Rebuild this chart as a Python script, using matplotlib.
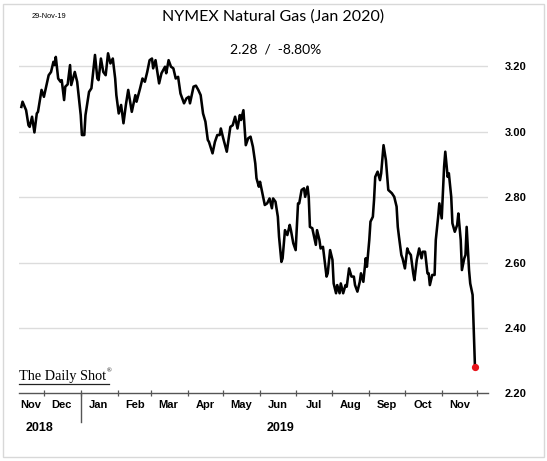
import pandas as pd
import numpy as np
import matplotlib
matplotlib.use("Agg")
import matplotlib.pyplot as plt
import matplotlib.dates as mdates
from matplotlib.lines import Line2D
from matplotlib.patches import Rectangle

# NYMEX natural gas, Jan 2020 contract
dates = [
    "2018-11-12", "2018-11-13", "2018-11-16", "2018-11-18", "2018-11-19", "2018-11-21",
    "2018-11-23", "2018-11-25", "2018-11-26", "2018-11-29", "2018-12-01", "2018-12-05",
    "2018-12-07", "2018-12-09", "2018-12-10", "2018-12-11", "2018-12-13", "2018-12-15",
    "2018-12-16", "2018-12-18", "2018-12-19", "2018-12-21", "2018-12-23", "2018-12-24",
    "2018-12-27", "2018-12-29", "2019-01-01", "2019-01-02", "2019-01-04", "2019-01-05",
    "2019-01-08", "2019-01-10", "2019-01-13", "2019-01-15", "2019-01-16", "2019-01-18",
    "2019-01-20", "2019-01-22", "2019-01-24", "2019-01-26", "2019-01-28", "2019-01-30",
    "2019-01-31", "2019-02-02", "2019-02-04", "2019-02-06", "2019-02-08", "2019-02-10",
    "2019-02-13", "2019-02-16", "2019-02-17", "2019-02-20", "2019-02-22", "2019-02-24",
    "2019-02-26", "2019-02-28", "2019-03-02", "2019-03-03", "2019-03-05", "2019-03-08",
    "2019-03-10", "2019-03-13", "2019-03-14", "2019-03-16", "2019-03-18", "2019-03-20",
    "2019-03-22", "2019-03-24", "2019-03-26", "2019-03-29", "2019-03-31", "2019-04-02",
    "2019-04-03", "2019-04-06", "2019-04-08", "2019-04-10", "2019-04-12", "2019-04-14",
    "2019-04-16", "2019-04-18", "2019-04-19", "2019-04-22", "2019-04-24", "2019-04-26",
    "2019-04-28", "2019-04-29", "2019-05-01", "2019-05-04", "2019-05-07", "2019-05-09",
    "2019-05-11", "2019-05-13", "2019-05-15", "2019-05-16", "2019-05-18", "2019-05-20",
    "2019-05-22", "2019-05-24", "2019-05-26", "2019-05-28", "2019-05-29", "2019-05-31",
    "2019-06-01", "2019-06-03", "2019-06-05", "2019-06-07", "2019-06-09", "2019-06-11",
    "2019-06-12", "2019-06-14", "2019-06-16", "2019-06-17", "2019-06-19", "2019-06-20",
    "2019-06-22", "2019-06-24", "2019-06-26", "2019-06-27", "2019-06-29", "2019-07-01",
    "2019-07-03", "2019-07-04", "2019-07-06", "2019-07-08", "2019-07-09", "2019-07-11",
    "2019-07-12", "2019-07-13", "2019-07-15", "2019-07-18", "2019-07-19", "2019-07-21",
    "2019-07-22", "2019-07-24", "2019-07-26", "2019-07-27", "2019-07-28", "2019-07-30",
    "2019-08-01", "2019-08-02", "2019-08-04", "2019-08-05", "2019-08-07", "2019-08-08",
    "2019-08-10", "2019-08-12", "2019-08-13", "2019-08-15", "2019-08-17", "2019-08-19",
    "2019-08-20", "2019-08-22", "2019-08-24", "2019-08-25", "2019-08-27", "2019-08-29",
    "2019-08-30", "2019-09-01", "2019-09-02", "2019-09-04", "2019-09-05", "2019-09-06",
    "2019-09-08", "2019-09-10", "2019-09-11", "2019-09-13", "2019-09-15", "2019-09-17",
    "2019-09-20", "2019-09-22", "2019-09-24", "2019-09-25", "2019-09-26", "2019-09-28",
    "2019-09-29", "2019-10-01", "2019-10-03", "2019-10-04", "2019-10-06", "2019-10-08",
    "2019-10-09", "2019-10-11", "2019-10-13", "2019-10-15", "2019-10-16", "2019-10-18",
    "2019-10-20", "2019-10-21", "2019-10-22", "2019-10-24", "2019-10-26", "2019-10-27",
    "2019-10-29", "2019-10-30", "2019-11-01", "2019-11-03", "2019-11-04", "2019-11-06",
    "2019-11-07", "2019-11-09", "2019-11-10", "2019-11-12", "2019-11-14", "2019-11-15",
    "2019-11-17", "2019-11-18", "2019-11-20", "2019-11-21", "2019-11-22", "2019-11-24",
    "2019-11-25", "2019-11-27", "2019-11-29",
]
prices = [
    3.076, 3.092, 3.066, 3.020, 3.015, 3.046,
    2.998, 3.056, 3.061, 3.128, 3.107, 3.173,
    3.183, 3.214, 3.204, 3.229, 3.163, 3.153,
    3.158, 3.097, 3.138, 3.145, 3.204, 3.143,
    3.183, 3.153, 3.051, 2.990, 2.990, 3.051,
    3.122, 3.133, 3.235, 3.163, 3.158, 3.224,
    3.183, 3.173, 3.240, 3.209, 3.224, 3.163,
    3.112, 3.056, 3.082, 3.026, 3.082, 3.128,
    3.061, 3.112, 3.092, 3.133, 3.163, 3.153,
    3.183, 3.219, 3.224, 3.194, 3.219, 3.148,
    3.179, 3.199, 3.179, 3.219, 3.199, 3.194,
    3.163, 3.168, 3.117, 3.087, 3.102, 3.107,
    3.087, 3.138, 3.141, 3.128, 3.112, 3.056,
    3.031, 2.975, 2.969, 2.934, 2.969, 2.990,
    2.990, 3.010, 2.980, 2.939, 3.015, 3.020,
    3.046, 3.010, 3.051, 3.036, 3.066, 2.959,
    2.980, 2.985, 2.954, 2.903, 2.858, 2.832,
    2.847, 2.812, 2.776, 2.781, 2.796, 2.766,
    2.796, 2.786, 2.740, 2.679, 2.602, 2.613,
    2.699, 2.684, 2.715, 2.699, 2.659, 2.638,
    2.781, 2.781, 2.822, 2.827, 2.801, 2.832,
    2.801, 2.709, 2.705, 2.654, 2.699, 2.669,
    2.643, 2.648, 2.587, 2.557, 2.567, 2.638,
    2.608, 2.536, 2.506, 2.531, 2.506, 2.536,
    2.506, 2.531, 2.526, 2.582, 2.557, 2.557,
    2.531, 2.511, 2.541, 2.567, 2.541, 2.613,
    2.587, 2.669, 2.725, 2.740, 2.791, 2.862,
    2.878, 2.852, 2.873, 2.959, 2.913, 2.822,
    2.812, 2.801, 2.771, 2.709, 2.679, 2.623,
    2.613, 2.582, 2.643, 2.633, 2.623, 2.567,
    2.546, 2.608, 2.643, 2.613, 2.633, 2.633,
    2.567, 2.567, 2.531, 2.562, 2.562, 2.669,
    2.740, 2.781, 2.735, 2.893, 2.939, 2.862,
    2.873, 2.801, 2.720, 2.694, 2.715, 2.750,
    2.669, 2.577, 2.613, 2.623, 2.709, 2.577,
    2.536, 2.501, 2.280,
]

y_ticks = [2.20, 2.40, 2.60, 2.80, 3.00, 3.20]
month_labels = ["Nov", "Dec", "Jan", "Feb", "Mar", "Apr", "May", "Jun",
                "Jul", "Aug", "Sep", "Oct", "Nov"]
month_starts = pd.date_range("2018-12-01", "2019-12-01", freq="MS")
label_pos = ["2018-11-20"] + [str((m + pd.Timedelta(days=15)).date()) for m in month_starts[:-1]]
year_labels = {"2018": "2018-11-27", "2019": "2019-06-18"}

title = "NYMEX Natural Gas (Jan 2020)"
subtitle = "2.28  /  -8.80%"
date_stamp = "29-Nov-19"

df = pd.DataFrame({"date": pd.to_datetime(dates), "price": prices})

fig = plt.figure(figsize=(5.47, 4.61), dpi=100)
ax = fig.add_axes([0.0347, 0.1469, 0.8575, 0.78])

ax.plot(df.date, df.price, color="black", linewidth=1.85, zorder=3)
ax.plot(df.date.iloc[-1], df.price.iloc[-1], "o", color="#e8141b", markersize=4.2, zorder=4)

ax.set_ylim(2.20, 3.30)
ax.set_xlim(pd.Timestamp("2018-11-10"), pd.Timestamp("2019-12-10"))

# grid
for yv in y_ticks[1:]:
    ax.axhline(yv, color="#dcdcdc", linewidth=1.0, zorder=1)

for s in ["top", "left", "right"]:
    ax.spines[s].set_visible(False)
ax.spines["bottom"].set_color("#555555")
ax.spines["bottom"].set_linewidth(1.0)

ax.yaxis.tick_right()
ax.set_yticks(y_ticks)
ax.set_yticklabels(["%.2f" % v for v in y_ticks], fontsize=8,
                   fontweight="bold", family="Liberation Sans")
ax.tick_params(axis="y", length=0, pad=12)

# month ticks at boundaries, labels in the middle
ax.set_xticks(month_starts, minor=True)
ax.set_xticks(pd.to_datetime(label_pos))
ax.set_xticklabels(month_labels, fontsize=8, fontweight="bold", family="Liberation Sans")
ax.tick_params(axis="x", which="major", length=0, pad=5)
ax.tick_params(axis="x", which="minor", length=5, direction="inout", color="#555555", width=0.9)

# year separator
ax.axvline(pd.Timestamp("2019-01-01"), ymin=-0.08, ymax=0.0, color="#555555",
           linewidth=1.0, clip_on=False)

for lab, d in year_labels.items():
    ax.text(pd.Timestamp(d), -0.097, lab, transform=ax.get_xaxis_transform(),
            ha="center", va="center", fontsize=9, fontweight="bold",
            family="Liberation Sans")

# titles
fig.text(0.499, 0.964, title, ha="center", va="center", fontsize=11.5, family="Lato")
fig.text(0.503, 0.892, subtitle, ha="center", va="center", fontsize=10, family="Lato")
fig.text(0.058, 0.964, date_stamp, ha="left", va="center", fontsize=5.3, family="Liberation Sans")

# logo
fig.text(0.035, 0.175, "The Daily Shot", ha="left", va="baseline", fontsize=10.3,
         family="Liberation Serif")
fig.text(0.196, 0.193, "\u00ae", ha="left", va="baseline", fontsize=4.5,
         family="Liberation Serif")
fig.add_artist(Line2D([0.035, 0.2], [0.166, 0.166], color="#222222", linewidth=0.9))

# outer border
fig.add_artist(Rectangle((0.006, 0.008), 0.988, 0.984, fill=False,
                         edgecolor="#d8d8d8", linewidth=1.0))

fig.savefig("out.png", dpi=100)
